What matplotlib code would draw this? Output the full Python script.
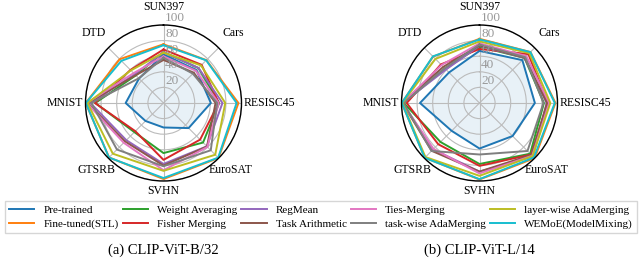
import numpy as np
import matplotlib.pyplot as plt
from matplotlib.lines import Line2D

plt.rcParams['font.family'] = ['Liberation Serif', 'DejaVu Serif']

# -------------------------------
# Data
# -------------------------------
tasks = ['SUN397', 'Cars', 'RESISC45', 'EuroSAT', 'SVHN', 'GTSRB', 'MNIST', 'DTD']
methods = ['Pre-trained', 'Fine-tuned(STL)', 'Weight Averaging', 'Fisher Merging',
           'RegMean', 'Task Arithmetic', 'Ties-Merging', 'task-wise AdaMerging',
           'layer-wise AdaMerging', 'WEMoE(ModelMixing)']
r_ticks = [20, 40, 60, 80, 100]

# CLIP-ViT-B/32
b32_pretrained = [62.3, 59.7, 60.7, 45.5, 31.4, 32.6, 48.5, 44.4]
b32_finetuned = [75.3, 77.7, 96.1, 99.7, 97.5, 98.7, 99.7, 79.4]
b32_weight_avg = [65.3, 63.4, 71.4, 71.7, 64.2, 52.8, 87.5, 50.1]
b32_fisher = [68.6, 69.2, 70.7, 66.4, 72.9, 51.1, 87.9, 59.9]
b32_regmean = [65.3, 63.5, 75.6, 78.6, 78.1, 67.4, 93.7, 52.0]
b32_task_arith = [55.2, 54.9, 66.7, 78.9, 80.2, 69.7, 97.3, 50.4]
b32_ties = [59.8, 58.6, 70.7, 79.7, 86.2, 72.1, 98.3, 54.2]
b32_tw_ada = [58.0, 53.2, 68.8, 85.7, 81.1, 84.4, 92.4, 44.8]
b32_lw_ada = [64.5, 68.1, 79.2, 93.8, 87.0, 91.9, 97.5, 59.1]
b32_wemoe = [74.1, 77.4, 93.7, 99.1, 96.2, 98.9, 99.6, 76.4]

# CLIP-ViT-L/14
l14_pretrained = [66.8, 77.7, 71.0, 59.9, 58.4, 50.5, 76.3, 55.3]
l14_finetuned = [82.3, 92.4, 97.4, 100.0, 98.1, 99.2, 99.7, 84.1]
l14_weight_avg = [72.1, 81.6, 82.6, 91.9, 78.2, 70.7, 97.1, 62.8]
l14_fisher = [69.2, 88.6, 87.5, 93.5, 80.6, 74.8, 93.3, 70.0]
l14_regmean = [73.3, 81.8, 86.1, 97.0, 88.0, 84.2, 98.5, 60.8]
l14_task_arith = [73.9, 82.1, 86.6, 94.1, 87.9, 86.7, 98.9, 65.6]
l14_ties = [76.5, 85.0, 89.3, 95.7, 90.3, 83.3, 99.0, 68.8]
l14_tw_ada = [75.0, 83.0, 82.0, 87.0, 66.0, 87.0, 97.5, 63.0]
l14_lw_ada = [79.0, 90.3, 90.8, 96.2, 93.4, 98.0, 99.0, 79.9]
l14_wemoe = [81.5, 92.3, 96.5, 98.8, 97.6, 99.4, 99.6, 84.5]

b32 = [b32_pretrained, b32_finetuned, b32_weight_avg, b32_fisher, b32_regmean,
       b32_task_arith, b32_ties, b32_tw_ada, b32_lw_ada, b32_wemoe]
l14 = [l14_pretrained, l14_finetuned, l14_weight_avg, l14_fisher, l14_regmean,
       l14_task_arith, l14_ties, l14_tw_ada, l14_lw_ada, l14_wemoe]
captions = ['(a) CLIP-ViT-B/32', '(b) CLIP-ViT-L/14']

colors = plt.get_cmap('tab10').colors
angles = np.linspace(0, 2 * np.pi, len(tasks), endpoint=False)
angles_closed = np.concatenate([angles, angles[:1]])

# label placement around the circle (radius in data units, alignment)
label_pos = [(116, 'center', 'bottom'), (127, 'center', 'center'), (103, 'left', 'center'),
             (122, 'center', 'center'), (105, 'center', 'top'), (122, 'center', 'center'),
             (103, 'right', 'center'), (127, 'center', 'center')]

# -------------------------------
# Plot
# -------------------------------
W, H = 642, 263
Rpx = 78
fig = plt.figure(figsize=(W / 100, H / 100), dpi=100)
centers = [(163.5, 103), (479.5, 103)]

for (cx, cy), data, cap in zip(centers, [b32, l14], captions):
    ax = fig.add_axes([(cx - Rpx) / W, (H - cy - Rpx) / H, 2 * Rpx / W, 2 * Rpx / H],
                      projection='polar')
    ax.set_theta_offset(np.pi / 2)
    ax.set_theta_direction(-1)
    for vals, c in zip(data, colors):
        v = np.concatenate([vals, vals[:1]])
        ax.plot(angles_closed, v, color=c, lw=1.4)
    v0 = np.concatenate([data[0], data[0][:1]])
    ax.fill(angles_closed, v0, color=colors[0], alpha=0.1)
    ax.set_ylim(0, 100)
    ax.set_yticks(r_ticks)
    ax.set_yticklabels([])
    for r in r_ticks:
        ax.annotate(str(r), xy=(0, r), xytext=(1.2, 0.5), textcoords='offset points',
                    ha='left', va='bottom', color='#999999', fontsize=9.5)
    ax.set_xticks(angles)
    ax.set_xticklabels([])
    for a, t, (r, ha, va) in zip(angles, tasks, label_pos):
        ax.text(a, r, t, ha=ha, va=va, fontsize=8.5, clip_on=False)
    ax.grid(color='#bbbbbb', lw=0.8)
    ax.spines['polar'].set_color('black')
    ax.spines['polar'].set_linewidth(1.0)
    fig.text(cx / W, 1 - 250 / H, cap, ha='center', va='center', fontsize=10.5)

handles = [Line2D([], [], color=c, lw=1.4) for c in colors]
fig.legend(handles, methods, loc='center',
           bbox_to_anchor=(5 / W, 1 - 236 / H, 632 / W, 38 / H),
           bbox_transform=fig.transFigure, mode='expand',
           ncol=5, fontsize=8, frameon=True, fancybox=False, edgecolor='#cccccc',
           handlelength=2.3, handletextpad=0.8, borderpad=0.35, labelspacing=0.35,
           borderaxespad=0)

plt.savefig('out.png', dpi=100)
